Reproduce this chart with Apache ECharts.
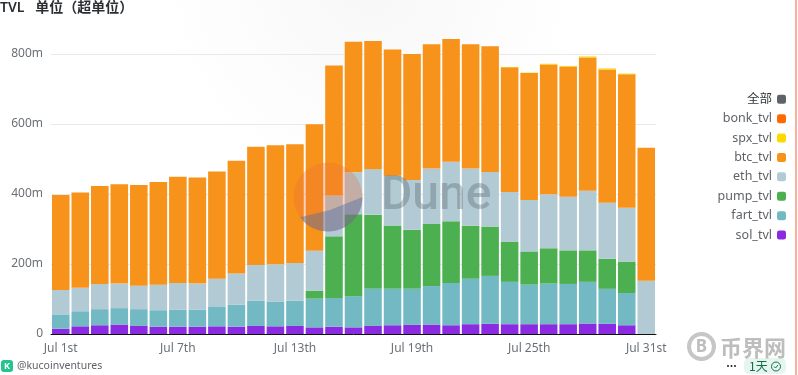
<!DOCTYPE html>
<html><head><meta charset="utf-8">
<style>html,body{margin:0;padding:0;background:#fff}#c{width:798px;height:375px}</style>
<script src="https://cdn.jsdelivr.net/npm/echarts@6/dist/echarts.min.js"></script>
</head><body><div id="c"></div>
<script>
const categories = ['Jul 1st','Jul 2nd','Jul 3rd','Jul 4th','Jul 5th','Jul 6th','Jul 7th','Jul 8th','Jul 9th','Jul 10th','Jul 11th','Jul 12th','Jul 13th','Jul 14th','Jul 15th','Jul 16th','Jul 17th','Jul 18th','Jul 19th','Jul 20th','Jul 21st','Jul 22nd','Jul 23rd','Jul 24th','Jul 25th','Jul 26th','Jul 27th','Jul 28th','Jul 29th','Jul 30th','Jul 31st'];
const yTicks = [0,200,400,600,800];
const legendOrder = ['全部','bonk_tvl','spx_tvl','btc_tvl','eth_tvl','pump_tvl','fart_tvl','sol_tvl'];
const sol_tvl  = [15,22,25,27,23,21,21,21,22,21,23,22,23,19,21,19,23,25,26,27,25,28,29,28,28,28,28,30,29,25,0];
const fart_tvl = [41,43,46,47,48,47,49,49,57,63,72,71,72,82,82,89,106,104,103,110,121,130,137,121,113,116,115,119,100,92,0];
const pump_tvl = [0,0,0,0,0,0,0,0,0,0,0,0,0,23,176,234,212,181,169,177,176,151,141,114,95,101,96,90,86,90,0];
const eth_tvl  = [70,67,72,70,67,73,76,74,79,89,102,106,108,114,117,120,130,142,142,159,170,164,156,143,147,154,153,170,160,154,152];
const btc_tvl  = [271,272,280,284,288,293,303,303,306,322,338,340,339,361,371,373,366,361,360,355,351,355,359,356,363,371,372,381,381,381,380];
const spx_tvl  = [0,0,0,0,0,0,0,0,0,0,0,0,0,0,0,0,0,0,0,0,0,0,0,1,1,2,2,3,3,2,0];
const bonk_tvl = [0,0,0,0,0,0,0,0,0,0,0,0,0,0,0,0,0,0,0,0,0,0,0,0,0,0,0,0,0,0,0];
const colors = {'全部':'#5f6368',bonk_tvl:'#ff6a00',spx_tvl:'#ffd800',btc_tvl:'#f7931a',eth_tvl:'#b2cad3',pump_tvl:'#4caf50',fart_tvl:'#72b9c3',sol_tvl:'#8a2be2'};
const stacks = [['sol_tvl',sol_tvl],['fart_tvl',fart_tvl],['pump_tvl',pump_tvl],['eth_tvl',eth_tvl],['btc_tvl',btc_tvl],['spx_tvl',spx_tvl],['bonk_tvl',bonk_tvl]];
const font = '"Noto Sans","Noto Sans CJK SC",sans-serif';
const chart = echarts.init(document.getElementById('c'),null,{renderer:'canvas'});
const series = stacks.map(([name,data])=>({name,type:'bar',stack:'t',data,barWidth:'90%',itemStyle:{color:colors[name]},z:3,silent:true,animation:false}));
series.push({name:'全部',type:'bar',stack:'t',data:[],itemStyle:{color:colors['全部']}});
// Lower wedge of the Dune logo, outlined along its circle.
const logo = {cx:328,cy:197,r:34.5};
const wedge = [];
for (let a=0;a<=146;a+=6) wedge.push([logo.cx+logo.r*Math.cos(a*Math.PI/180),logo.cy+logo.r*Math.sin(a*Math.PI/180)]);
wedge.push([330,210]);
chart.setOption({
  animation:false,
  backgroundColor:'#fff',
  grid:{left:51,right:142,top:-16,bottom:41,containLabel:false,outerBoundsMode:'none'},
  title:{text:'TVL   单位（超单位）',left:0,top:1,padding:0,textStyle:{fontFamily:font,fontSize:14,fontWeight:600,color:'#2b2f33'}},
  xAxis:{type:'category',data:categories,axisTick:{show:false},
    axisLine:{show:true,lineStyle:{color:'#111',width:1}},
    axisLabel:{interval:5,color:'#6b7076',fontSize:12,margin:9,fontFamily:font,hideOverlap:false}},
  yAxis:{type:'value',min:0,max:1000,interval:200,
    axisLine:{show:false},axisTick:{show:false},
    splitLine:{lineStyle:{color:'#e9e9ec',width:1}},
    axisLabel:{color:'#6b7076',fontSize:12,margin:8,fontFamily:font,
      formatter:v=>v===0?'0':(yTicks.includes(v)?v+'m':'')}},
  legend:{orient:'vertical',right:7,top:88,align:'right',itemWidth:9,itemHeight:9,itemGap:6.9,icon:'roundRect',
    textStyle:{color:'#5f6368',fontSize:12.5,fontFamily:font},
    data:legendOrder.map(n=>({name:n,itemStyle:{color:colors[n]},textStyle:n==='全部'?{color:'#33373b'}:{}}))},
  series,
  graphic:[
    {type:'circle',shape:{cx:370,cy:-20,r:210},z:-1,silent:true,
      style:{fill:new echarts.graphic.RadialGradient(0.5,0.5,0.5,[{offset:0,color:'#f7f7f7'},{offset:1,color:'#ffffff'}])}},
    {type:'circle',shape:{cx:logo.cx,cy:logo.cy,r:logo.r},style:{fill:'rgba(240,105,60,0.3)'},z:10,silent:true},
    {type:'polygon',shape:{points:wedge},style:{fill:'rgba(70,110,170,0.42)'},z:11,silent:true},
    {type:'text',style:{x:381,y:197,text:'Dune',fill:'rgba(80,90,100,0.33)',font:'500 48px Roboto,sans-serif',verticalAlign:'middle'},z:10,silent:true},
    {type:'text',style:{x:17,y:366,text:'@kucoinventures',fill:'#5f6368',font:'10.5px "Noto Sans",sans-serif',verticalAlign:'middle'},silent:true},
    {type:'rect',shape:{x:1,y:360,width:12,height:12,r:3},style:{fill:'#25c38f'},silent:true},
    {type:'text',style:{x:7,y:366,text:'K',fill:'#fff',font:'bold 9px "Noto Sans",sans-serif',align:'center',verticalAlign:'middle'},silent:true},
    {type:'rect',shape:{x:744,y:358,width:42,height:16,r:5},style:{fill:'#e6f6ef'},silent:true},
    {type:'text',style:{x:749,y:366,text:'1天',fill:'#0f6f4f',font:'12px "Noto Sans CJK SC",sans-serif',verticalAlign:'middle'},silent:true},
    {type:'circle',shape:{cx:776,cy:366.5,r:4.5},style:{fill:'none',stroke:'#0f6f4f',lineWidth:1},silent:true},
    {type:'polyline',shape:{points:[[774,366.5],[775.5,368],[778,365]]},style:{fill:'none',stroke:'#0f6f4f',lineWidth:1},silent:true},
    {type:'circle',shape:{cx:728,cy:366,r:1},style:{fill:'#222'},silent:true},
    {type:'circle',shape:{cx:731.5,cy:366,r:1},style:{fill:'#222'},silent:true},
    {type:'circle',shape:{cx:735,cy:366,r:1},style:{fill:'#222'},silent:true},
    {type:'text',style:{x:720,y:348,text:'币界网',fill:'#bdbdbd',font:'bold 22px "Noto Sans CJK SC",sans-serif',verticalAlign:'middle'},silent:true},
    {type:'circle',shape:{cx:701.5,cy:346.5,r:12.5},style:{fill:'#fff',stroke:'#c6c6c6',lineWidth:4},silent:true},
    {type:'text',style:{x:701.5,y:347,text:'B',fill:'#bdbdbd',font:'bold 17px "Noto Sans",sans-serif',align:'center',verticalAlign:'middle'},silent:true},
    {type:'rect',shape:{x:795,y:0,width:2,height:375},style:{fill:'#f8b09a'},silent:true}
  ]
});
</script></body></html>
